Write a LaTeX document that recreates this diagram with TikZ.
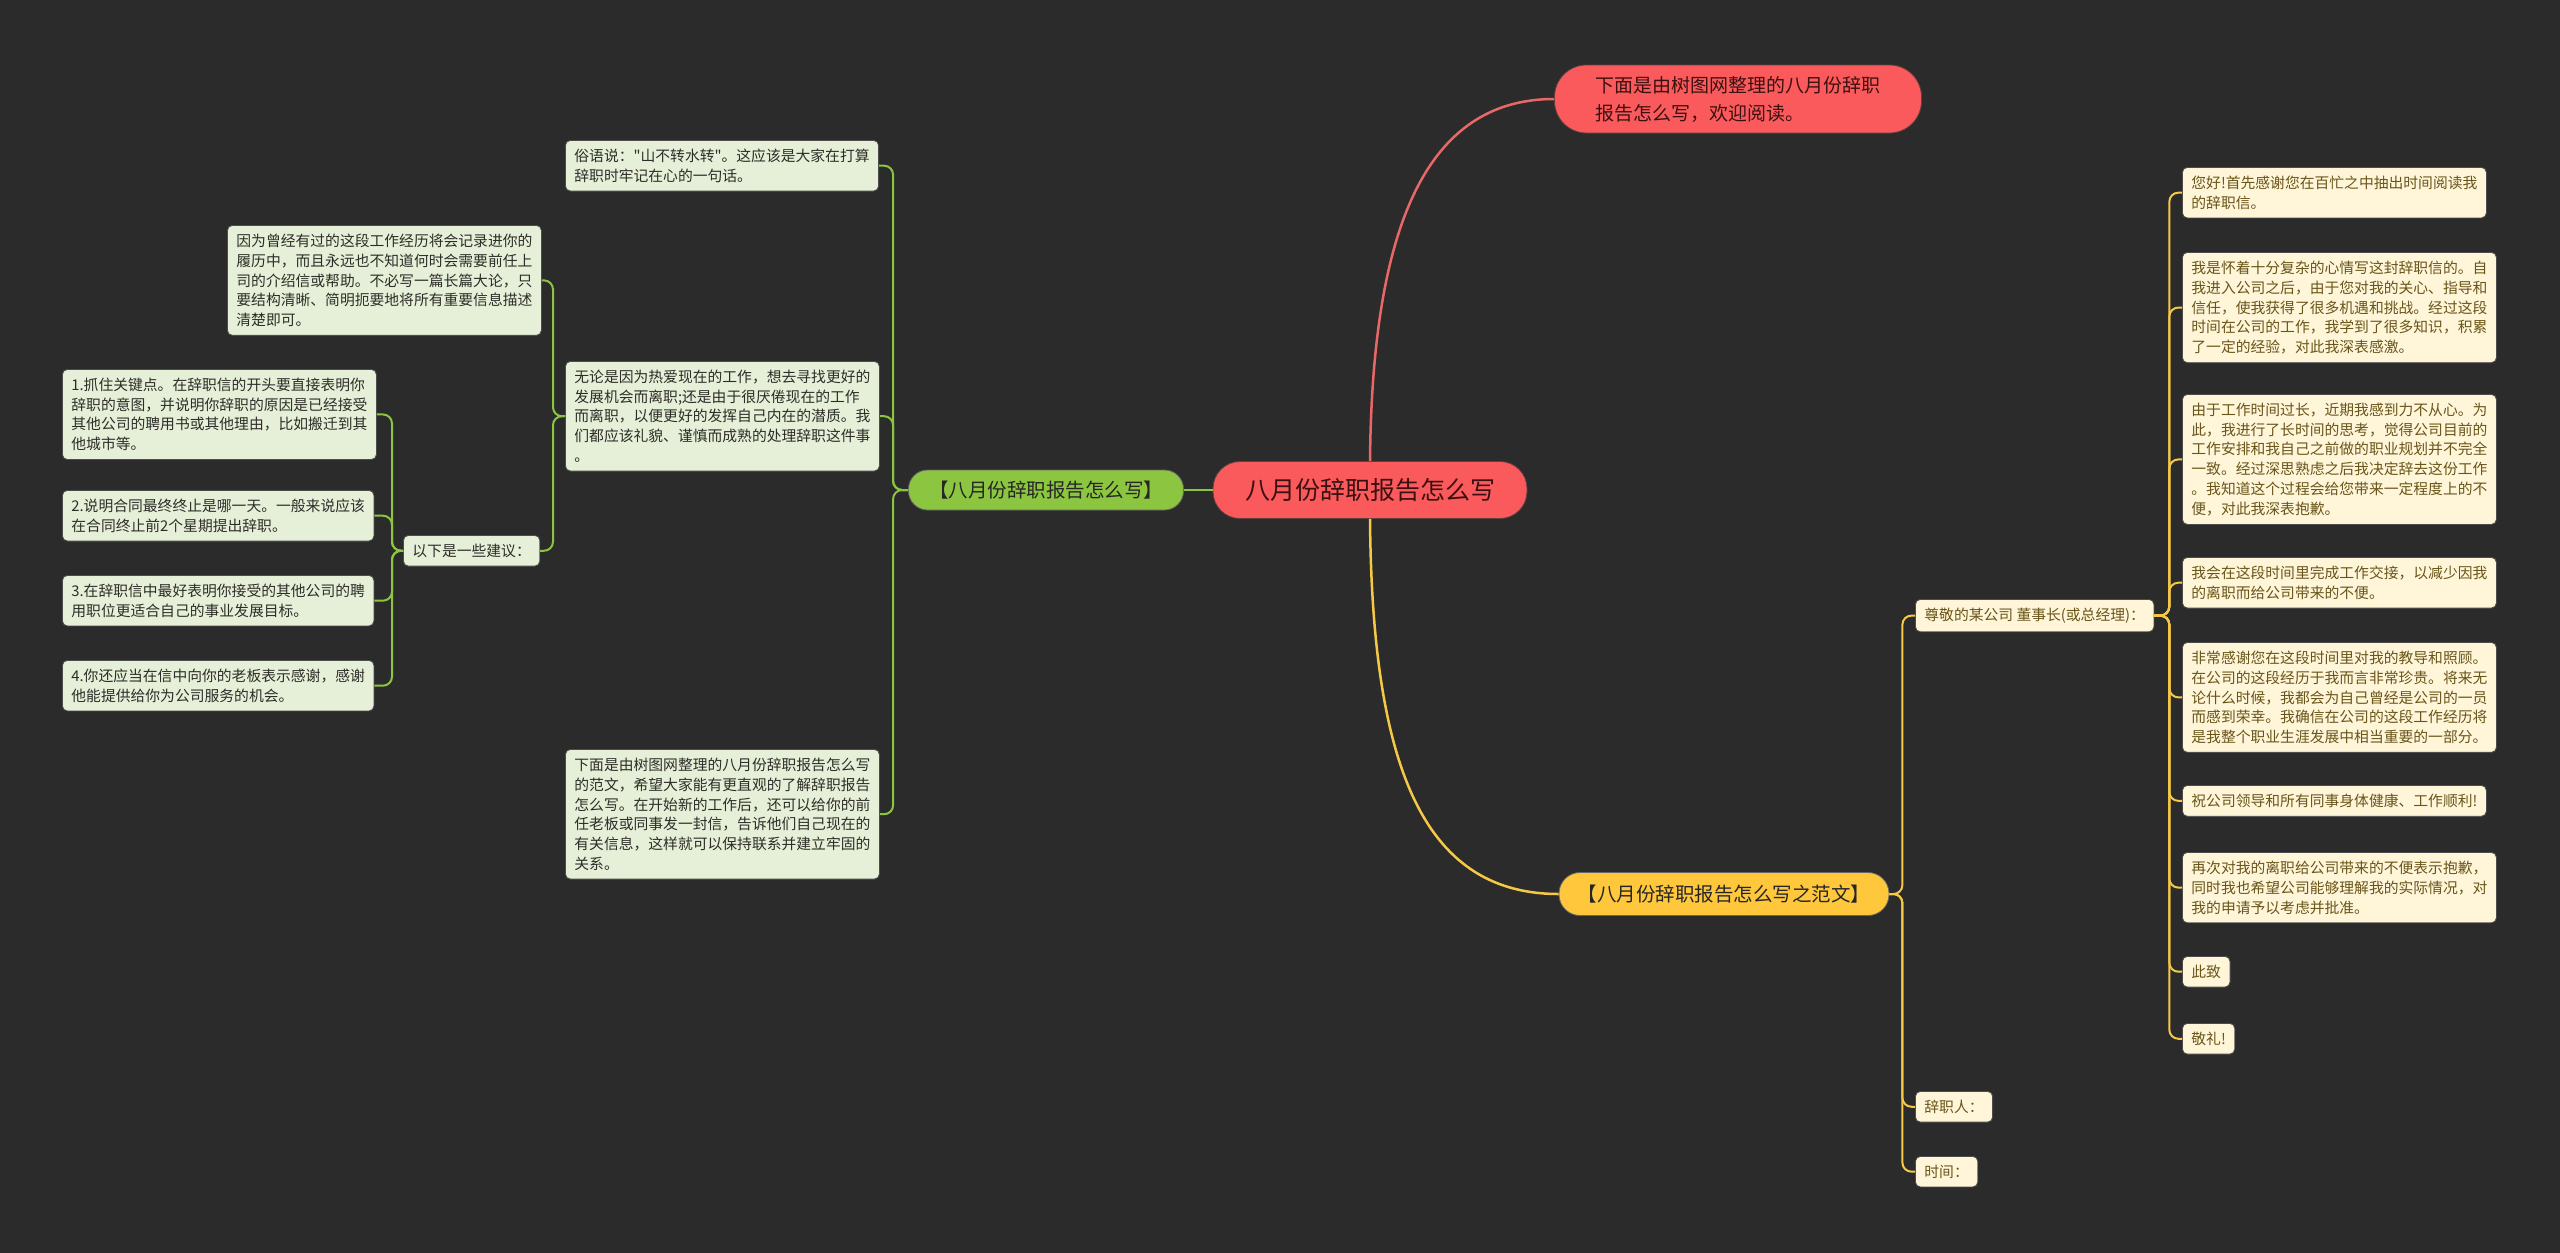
\documentclass[tikz,border=0pt]{standalone}
\usepackage{fontspec}
\setmainfont{Noto Sans CJK SC}
\newfontfamily\qfont{Noto Sans CJK SC}[Ligatures=TeXOff]
\definecolor{bg}{RGB}{43,43,43}
\definecolor{redfill}{RGB}{250,90,92}
\definecolor{redtext}{RGB}{60,16,16}
\definecolor{redline}{RGB}{232,104,104}
\definecolor{gbfill}{RGB}{140,197,63}
\definecolor{gline}{RGB}{140,197,63}
\definecolor{gleaffill}{RGB}{230,240,216}
\definecolor{gtext}{RGB}{45,45,40}
\definecolor{ybfill}{RGB}{255,200,60}
\definecolor{yline}{RGB}{245,200,70}
\definecolor{yleaffill}{RGB}{255,246,218}
\definecolor{ytext}{RGB}{105,85,25}
\tikzset{
  leafbase/.style={rounded corners=5pt, inner xsep=9pt, inner ysep=8.5pt, align=left, anchor=north west, line width=0.8pt, font=\fontsize{14.8}{19.8}\selectfont},
  gleaf/.style={leafbase, draw=black!70, fill=gleaffill, text=gtext},
  yleaf/.style={leafbase, draw=black!70, fill=yleaffill, text=ytext},
  glink/.style={draw=gline, line width=2pt, rounded corners=9pt},
  ylink/.style={draw=yline, line width=2pt, rounded corners=9pt},
}
\begin{document}
\begin{tikzpicture}[x=1pt,y=-1pt]
\fill[bg] (0,0) rectangle (2560,1253);
\useasboundingbox (0,0) rectangle (2560,1253);

% main nodes
\node[fill=redfill, draw=redtext!80, line width=0.8pt, rounded corners=27pt, minimum width=314pt, minimum height=57pt, inner sep=0pt, text=redtext, font=\fontsize{25}{30}\selectfont] (root) at (1370,490) {八月份辞职报告怎么写};
\node[fill=redfill, draw=redtext!80, line width=0.8pt, rounded corners=32pt, minimum width=367pt, minimum height=68pt, inner sep=0pt, text=redtext, align=left, font=\fontsize{19}{28}\selectfont] (red) at (1738,99) {下面是由树图网整理的八月份辞职\\报告怎么写，欢迎阅读。};
\node[fill=gbfill, draw=black!60, line width=0.8pt, rounded corners=19pt, minimum width=275pt, minimum height=40pt, inner sep=0pt, text=black!85, font=\fontsize{19.5}{24}\selectfont] (gb) at (1046,490) {【八月份辞职报告怎么写】};
\node[fill=ybfill, draw=black!60, line width=0.8pt, rounded corners=21pt, minimum width=330pt, minimum height=43pt, inner sep=0pt, text=black!85, font=\fontsize{19.5}{24}\selectfont] (yb) at (1724,894) {【八月份辞职报告怎么写之范文】};

% green side
\node[gleaf] (g1) at (565,140) {俗语说：{\qfont"}山不转水转{\qfont"}。这应该是大家在打算\\辞职时牢记在心的一句话。};
\node[gleaf] (g2) at (227,225) {因为曾经有过的这段工作经历将会记录进你的\\履历中，而且永远也不知道何时会需要前任上\\司的介绍信或帮助。不必写一篇长篇大论，只\\要结构清晰、简明扼要地将所有重要信息描述\\清楚即可。};
\node[gleaf] (g3) at (565,361) {无论是因为热爱现在的工作，想去寻找更好的\\发展机会而离职;还是由于很厌倦现在的工作\\而离职，以便更好的发挥自己内在的潜质。我\\们都应该礼貌、谨慎而成熟的处理辞职这件事\\。};
\node[gleaf] (g4) at (403,535) {以下是一些建议：};
\node[gleaf] (g5) at (565,749) {下面是由树图网整理的八月份辞职报告怎么写\\的范文，希望大家能有更直观的了解辞职报告\\怎么写。在开始新的工作后，还可以给你的前\\任老板或同事发一封信，告诉他们自己现在的\\有关信息，这样就可以保持联系并建立牢固的\\关系。};
\node[gleaf] (s1) at (62,369) {1.抓住关键点。在辞职信的开头要直接表明你\\辞职的意图，并说明你辞职的原因是已经接受\\其他公司的聘用书或其他理由，比如搬迁到其\\他城市等。};
\node[gleaf] (s2) at (62,490) {2.说明合同最终终止是哪一天。一般来说应该\\在合同终止前2个星期提出辞职。};
\node[gleaf] (s3) at (62,575) {3.在辞职信中最好表明你接受的其他公司的聘\\用职位更适合自己的事业发展目标。};
\node[gleaf] (s4) at (62,660) {4.你还应当在信中向你的老板表示感谢，感谢\\他能提供给你为公司服务的机会。};

% yellow side
\node[yleaf] (y1) at (1915,599) {尊敬的某公司 董事长(或总经理)：};
\node[yleaf] (y2) at (1915,1091) {辞职人：};
\node[yleaf] (y3) at (1915,1156) {时间：};
\node[yleaf] (l1) at (2182,167) {您好!首先感谢您在百忙之中抽出时间阅读我\\的辞职信。};
\node[yleaf] (l2) at (2182,252) {我是怀着十分复杂的心情写这封辞职信的。自\\我进入公司之后，由于您对我的关心、指导和\\信任，使我获得了很多机遇和挑战。经过这段\\时间在公司的工作，我学到了很多知识，积累\\了一定的经验，对此我深表感激。};
\node[yleaf] (l3) at (2182,394) {由于工作时间过长，近期我感到力不从心。为\\此，我进行了长时间的思考，觉得公司目前的\\工作安排和我自己之前做的职业规划并不完全\\一致。经过深思熟虑之后我决定辞去这份工作\\。我知道这个过程会给您带来一定程度上的不\\便，对此我深表抱歉。};
\node[yleaf] (l4) at (2182,557) {我会在这段时间里完成工作交接，以减少因我\\的离职而给公司带来的不便。};
\node[yleaf] (l5) at (2182,642) {非常感谢您在这段时间里对我的教导和照顾。\\在公司的这段经历于我而言非常珍贵。将来无\\论什么时候，我都会为自己曾经是公司的一员\\而感到荣幸。我确信在公司的这段工作经历将\\是我整个职业生涯发展中相当重要的一部分。};
\node[yleaf] (l6) at (2182,785) {祝公司领导和所有同事身体健康、工作顺利!};
\node[yleaf] (l7) at (2182,852) {再次对我的离职给公司带来的不便表示抱歉，\\同时我也希望公司能够理解我的实际情况，对\\我的申请予以考虑并批准。};
\node[yleaf] (l8) at (2182,956) {此致};
\node[yleaf] (l9) at (2182,1023) {敬礼!};

% connectors from root
\draw[redline, line width=2.5pt] (root.north) .. controls (1372,240) and (1420,99) .. (red.west);
\draw[yline, line width=2.5pt] (root.south) .. controls (1372,760) and (1420,894) .. (yb.west);
\draw[gline, line width=2.5pt] (root.west) -- (gb.east);

% green links
\foreach \c in {g1,g3,g5} \draw[glink] (gb.west) -- ++(-15,0) |- (\c.east);
\foreach \c in {g2,g4} \draw[glink] (g3.west) -- ++(-12,0) |- (\c.east);
\foreach \c in {s1,s2,s3,s4} \draw[glink] (g4.west) -- ++(-11,0) |- (\c.east);

% yellow links
\foreach \c in {y1,y2,y3} \draw[ylink] (yb.east) -- ++(13,0) |- (\c.west);
\foreach \c in {l1,l2,l3,l4,l5,l6,l7,l8,l9} \draw[ylink] (y1.east) -- ++(15,0) |- (\c.west);
\end{tikzpicture}
\end{document}
